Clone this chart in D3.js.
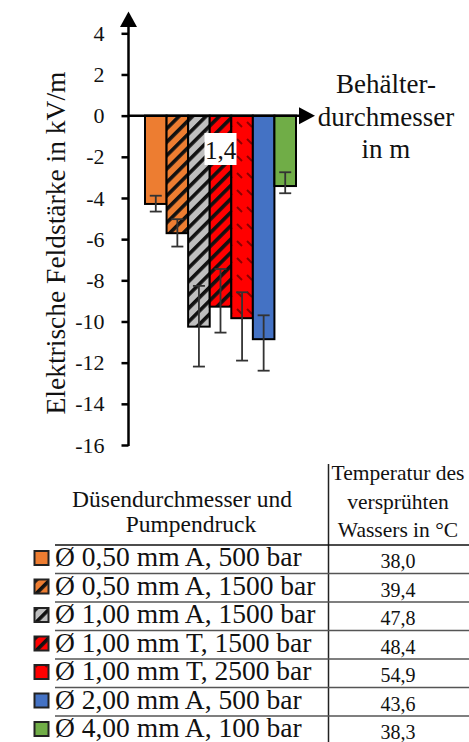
<!DOCTYPE html>
<html>
<head>
<meta charset="utf-8">
<script src="https://cdn.jsdelivr.net/npm/d3@7"></script>
<style>
  html, body { margin: 0; padding: 0; background: #fff; }
  svg { display: block; }
  svg text { font-family: 'Liberation Serif', 'Tinos', 'Times New Roman', 'DejaVu Serif', 'Noto Serif', serif !important; fill: #111; }
</style>
</head>
<body>
<div id="chart"></div>
<script>
// ---------- data ----------
const categories = ["1,4"];
const seriesNames = [
  "Ø 0,50 mm A, 500 bar",
  "Ø 0,50 mm A, 1500 bar",
  "Ø 1,00 mm A, 1500 bar",
  "Ø 1,00 mm T, 1500 bar",
  "Ø 1,00 mm T, 2500 bar",
  "Ø 2,00 mm A, 500 bar",
  "Ø 4,00 mm A, 100 bar"
];
const values   = [-4.29, -5.71, -10.25, -9.28, -9.84, -10.86, -3.42];
const errUp    = [0.40, 0.68, 1.98, 1.83, 1.26, 1.16, 0.67];
const errDown  = [0.37, 0.65, 1.94, 1.26, 2.06, 1.53, 0.35];
const temperatures = ["38,0", "39,4", "47,8", "48,4", "54,9", "43,6", "38,3"];
const yTicks = [4, 2, 0, -2, -4, -6, -8, -10, -12, -14, -16];
const yLabel = "Elektrische Feldstärke in kV/m";
const xLabelLines = ["Behälter-", "durchmesser", "in m"];
const tableHeadLeft = ["Düsendurchmesser und", "Pumpendruck"];
const tableHeadRight = ["Temperatur des", "versprühten", "Wassers in °C"];

// styles per series
const fills = ["#ED7D31", "url(#hatchOrange)", "url(#hatchGray)", "url(#hatchRed)", "url(#dashRed)", "#4472C4", "#70AD47"];
const FONT = "'Liberation Serif', 'Tinos', 'Times New Roman', 'DejaVu Serif', serif";

const W = 469, H = 742;
const svg = d3.select("#chart").append("svg").attr("width", W).attr("height", H)
  .attr("font-family", FONT);

// ---------- patterns ----------
const defs = svg.append("defs");
function hatch(id, bg) {
  const p = defs.append("pattern").attr("id", id)
    .attr("patternUnits", "userSpaceOnUse")
    .attr("width", 9.5).attr("height", 9.5)
    .attr("patternTransform", "rotate(45)");
  p.append("rect").attr("width", 9.5).attr("height", 9.5).attr("fill", bg);
  p.append("rect").attr("x", 0).attr("width", 3.6).attr("height", 9.5).attr("fill", "#111");
}
hatch("hatchOrange", "#ED7D31");
hatch("hatchGray", "#BFBFBF");
hatch("hatchRed", "#FF0000");
{
  const p = defs.append("pattern").attr("id", "dashRed")
    .attr("patternUnits", "userSpaceOnUse")
    .attr("width", 10).attr("height", 17);
  p.append("rect").attr("width", 10).attr("height", 17).attr("fill", "#FF0000");
  p.append("line").attr("x1", 2).attr("y1", 3).attr("x2", 7).attr("y2", 8)
    .attr("stroke", "#8B0000").attr("stroke-width", 2);
}

// ---------- scales ----------
const y = d3.scaleLinear().domain([-16, 4]).range([445, 33.3]);
const xCat = d3.scaleBand().domain(categories).range([145, 296]).padding(0);
const xSer = d3.scaleBand().domain(seriesNames).range([0, xCat.bandwidth()]).padding(0);
const axisX = 128.5;

// ---------- bars ----------
const barG = svg.append("g");
categories.forEach(cat => {
  const g = barG.append("g").attr("transform", `translate(${xCat(cat)},0)`);
  g.selectAll("rect").data(seriesNames).join("rect")
    .attr("x", d => xSer(d))
    .attr("y", y(0))
    .attr("width", xSer.bandwidth())
    .attr("height", (d, i) => y(values[i]) - y(0))
    .attr("fill", (d, i) => fills[i])
    .attr("stroke", "#000").attr("stroke-width", 2);

  const eb = g.selectAll("g.err").data(seriesNames).join("g").attr("class", "err");
  eb.append("line")
    .attr("x1", d => xSer(d) + xSer.bandwidth() / 2)
    .attr("x2", d => xSer(d) + xSer.bandwidth() / 2)
    .attr("y1", (d, i) => y(values[i] + errUp[i]))
    .attr("y2", (d, i) => y(values[i] - errDown[i]))
    .attr("stroke", "#333").attr("stroke-width", 1.8);
  [errUp, errDown].forEach((arr, k) => {
    eb.append("line")
      .attr("x1", d => xSer(d) + xSer.bandwidth() / 2 - 6)
      .attr("x2", d => xSer(d) + xSer.bandwidth() / 2 + 6)
      .attr("y1", (d, i) => y(values[i] + (k === 0 ? arr[i] : -arr[i])))
      .attr("y2", (d, i) => y(values[i] + (k === 0 ? arr[i] : -arr[i])))
      .attr("stroke", "#333").attr("stroke-width", 1.8);
  });
});

// ---------- axes ----------
const yAxis = d3.axisLeft(y).tickValues(yTicks).tickSize(7).tickSizeOuter(0).tickPadding(17)
  .tickFormat(d => String(d));
const yg = svg.append("g").attr("transform", `translate(${axisX},0)`).call(yAxis);
yg.attr("font-family", FONT).attr("font-size", 22);
yg.select(".domain").remove();
yg.selectAll(".tick line").attr("stroke", "#000").attr("stroke-width", 2.5);
yg.selectAll(".tick text").attr("fill", "#111");
svg.append("line").attr("x1", axisX).attr("x2", axisX).attr("y1", y(-16) + 1).attr("y2", 24)
  .attr("stroke", "#000").attr("stroke-width", 2.5);
svg.append("path").attr("d", `M${axisX},11.5 L${axisX - 8.5},27 L${axisX + 8.5},27 Z`).attr("fill", "#000");

const y0 = y(0);
svg.append("line").attr("x1", axisX).attr("x2", 300).attr("y1", y0).attr("y2", y0)
  .attr("stroke", "#000").attr("stroke-width", 2.5);
svg.append("path").attr("d", `M315,${y0} L299,${y0 - 8.5} L299,${y0 + 8.5} Z`).attr("fill", "#000");

categories.forEach(cat => {
  const cx = xCat(cat) + xCat.bandwidth() / 2;
  svg.append("rect").attr("x", cx - 16).attr("y", 133).attr("width", 32).attr("height", 32).attr("fill", "#fff");
  svg.append("text").attr("x", cx).attr("y", 159).attr("text-anchor", "middle")
    .attr("font-size", 25).text(cat);
});

svg.append("text")
  .attr("transform", "translate(65,243) rotate(-90)")
  .attr("text-anchor", "middle").attr("font-size", 27.5).text(yLabel);

svg.append("g").selectAll("text").data(xLabelLines).join("text")
  .attr("x", 386).attr("y", (d, i) => 93 + i * 32.5)
  .attr("text-anchor", "middle").attr("font-size", 27).text(d => d);

// ---------- table ----------
const tbl = svg.append("g");
tbl.append("line").attr("x1", 328.5).attr("x2", 328.5).attr("y1", 464).attr("y2", H)
  .attr("stroke", "#222").attr("stroke-width", 1.5);
tbl.selectAll("text.hl").data(tableHeadLeft).join("text").attr("class", "hl")
  .attr("x", (d, i) => i === 0 ? 182 : 191).attr("y", (d, i) => 507 + i * 24.5)
  .attr("text-anchor", "middle").attr("font-size", 23.5).text(d => d);
tbl.selectAll("text.hr").data(tableHeadRight).join("text").attr("class", "hr")
  .attr("x", 398).attr("y", (d, i) => 480 + i * 28.5)
  .attr("text-anchor", "middle").attr("font-size", 21.5).text(d => d);

const rowTop = 545, rowH = 28.5;
const rows = tbl.selectAll("g.row").data(seriesNames).join("g").attr("class", "row")
  .attr("transform", (d, i) => `translate(0,${rowTop + i * rowH})`);
rows.append("line").attr("x1", 55).attr("x2", W).attr("y1", 0).attr("y2", 0)
  .attr("stroke", (d, i) => i === 0 ? "#111" : "#555").attr("stroke-width", (d, i) => i === 0 ? 1.6 : 1.3);
rows.append("rect").attr("x", 34.5).attr("y", 6).attr("width", 14).attr("height", 14)
  .attr("fill", (d, i) => fills[i]).attr("stroke", "#222").attr("stroke-width", 2);
rows.append("text").attr("x", 55).attr("y", 21).attr("font-size", 27.5).text(d => d);
rows.append("text").attr("x", 398).attr("y", 23).attr("text-anchor", "middle")
  .attr("font-size", 20).text((d, i) => temperatures[i]);
</script>
</body>
</html>
